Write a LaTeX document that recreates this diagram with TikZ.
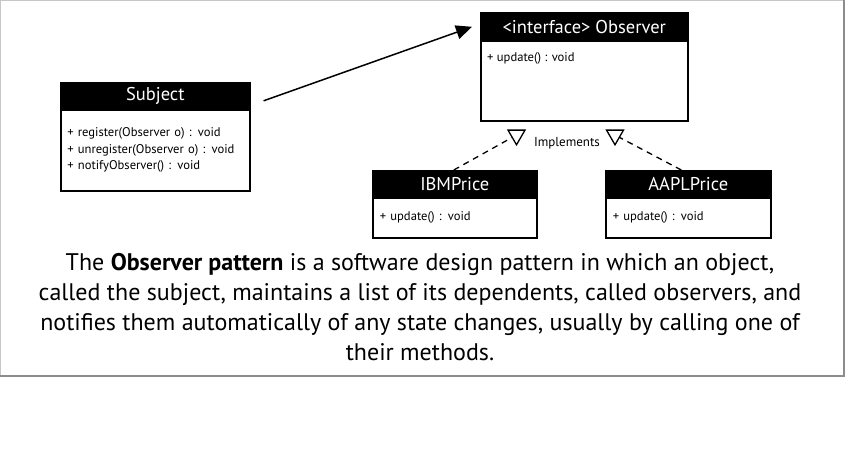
\documentclass[tikz,border=0pt]{standalone}
\usepackage{fontspec}
\setmainfont{PT Sans}
\usetikzlibrary{arrows.meta,shapes.geometric}
\newcommand{\hdfont}{\fontsize{18.5}{20}\selectfont}
\newcommand{\opfont}{\fontsize{12.6}{16.5}\selectfont}
\begin{document}
\begin{tikzpicture}[x=1pt,y=-1pt,
  head/.style={fill=black,draw=black,line width=1.6pt,text=white,font=\hdfont,inner sep=0pt,anchor=north west},
  body/.style={draw=black,line width=1.6pt,inner sep=0pt,anchor=north west,font=\opfont,align=left},
  optext/.style={font=\opfont,inner sep=0pt,anchor=north west,align=left},
  realize/.style={regular polygon,regular polygon sides=3,shape border rotate=180,draw=black,line width=1.3pt,minimum size=19.6pt,inner sep=0pt},
  dashline/.style={draw=black,line width=1.3pt,dash pattern=on 6pt off 5pt},
]
\useasboundingbox (0,0) rectangle (845,460);
% frame
\draw[color=black!22,line width=1pt] (0,0.5) -- (845,0.5);
\draw[color=black!22,line width=1pt] (0.5,0) -- (0.5,376);
\draw[color=black!45,line width=1.5pt] (0,376) -- (845,376);
\draw[color=black!45,line width=2.5pt] (843.8,0) -- (843.8,376.7);

% Subject
\node[head,minimum width=189pt,minimum height=27pt] (subjhead) at (60,82) {Subject};
\node[body,minimum width=189pt,minimum height=81pt,text width=176pt] (subjbody) at (60,109)
  {+ register(Observer o) : void\\+ unregister(Observer o) : void\\+ notifyObserver() : void};

% Observer
\node[head,minimum width=207pt,minimum height=28pt] (obshead) at (480,12) {<interface> Observer};
\node[body,minimum width=207pt,minimum height=80pt] (obsbody) at (480,40) {};
\node[optext] (obsop) at (487,52) {+ update() : void};

% IBMPrice
\node[head,minimum width=164pt,minimum height=27pt] (ibmhead) at (372,170) {IBMPrice};
\node[body,minimum width=164pt,minimum height=40pt,text width=150pt] (ibmbody) at (372,197) {+ update() : void};

% AAPLPrice
\node[head,minimum width=165pt,minimum height=27pt] (aaplhead) at (605,170) {AAPLPrice};
\node[body,minimum width=165pt,minimum height=40pt,text width=151pt] (aaplbody) at (605,197) {+ update() : void};

% association arrow
\draw[line width=1.5pt,-{Triangle[length=16pt,width=14pt]}]
  ([xshift=13pt,yshift=-4.5pt]subjhead.east) -- ([xshift=-8pt]obshead.west);

% realization
\node[realize] (tri1) at (516.5,135) {};
\node[realize] (tri2) at (615,135) {};
\node[font=\fontsize{13}{15}\selectfont,inner sep=0pt] (impl) at (567,143) {Implements};
\draw[dashline] ([xshift=-1pt]ibmhead.north) -- (tri1);
\draw[dashline] ([xshift=-7pt]aaplhead.north) -- (tri2);

% description
\node[font=\fontsize{24}{30}\selectfont,align=center,anchor=base,inner sep=0pt] (desc) at (420,360)
  {The \textbf{Observer pattern} is a software design pattern in which an object,\\
   called the subject, maintains a list of its dependents, called observers, and\\
   notifies them automatically of any state changes, usually by calling one of\\
   their methods.};
\end{tikzpicture}
\end{document}
